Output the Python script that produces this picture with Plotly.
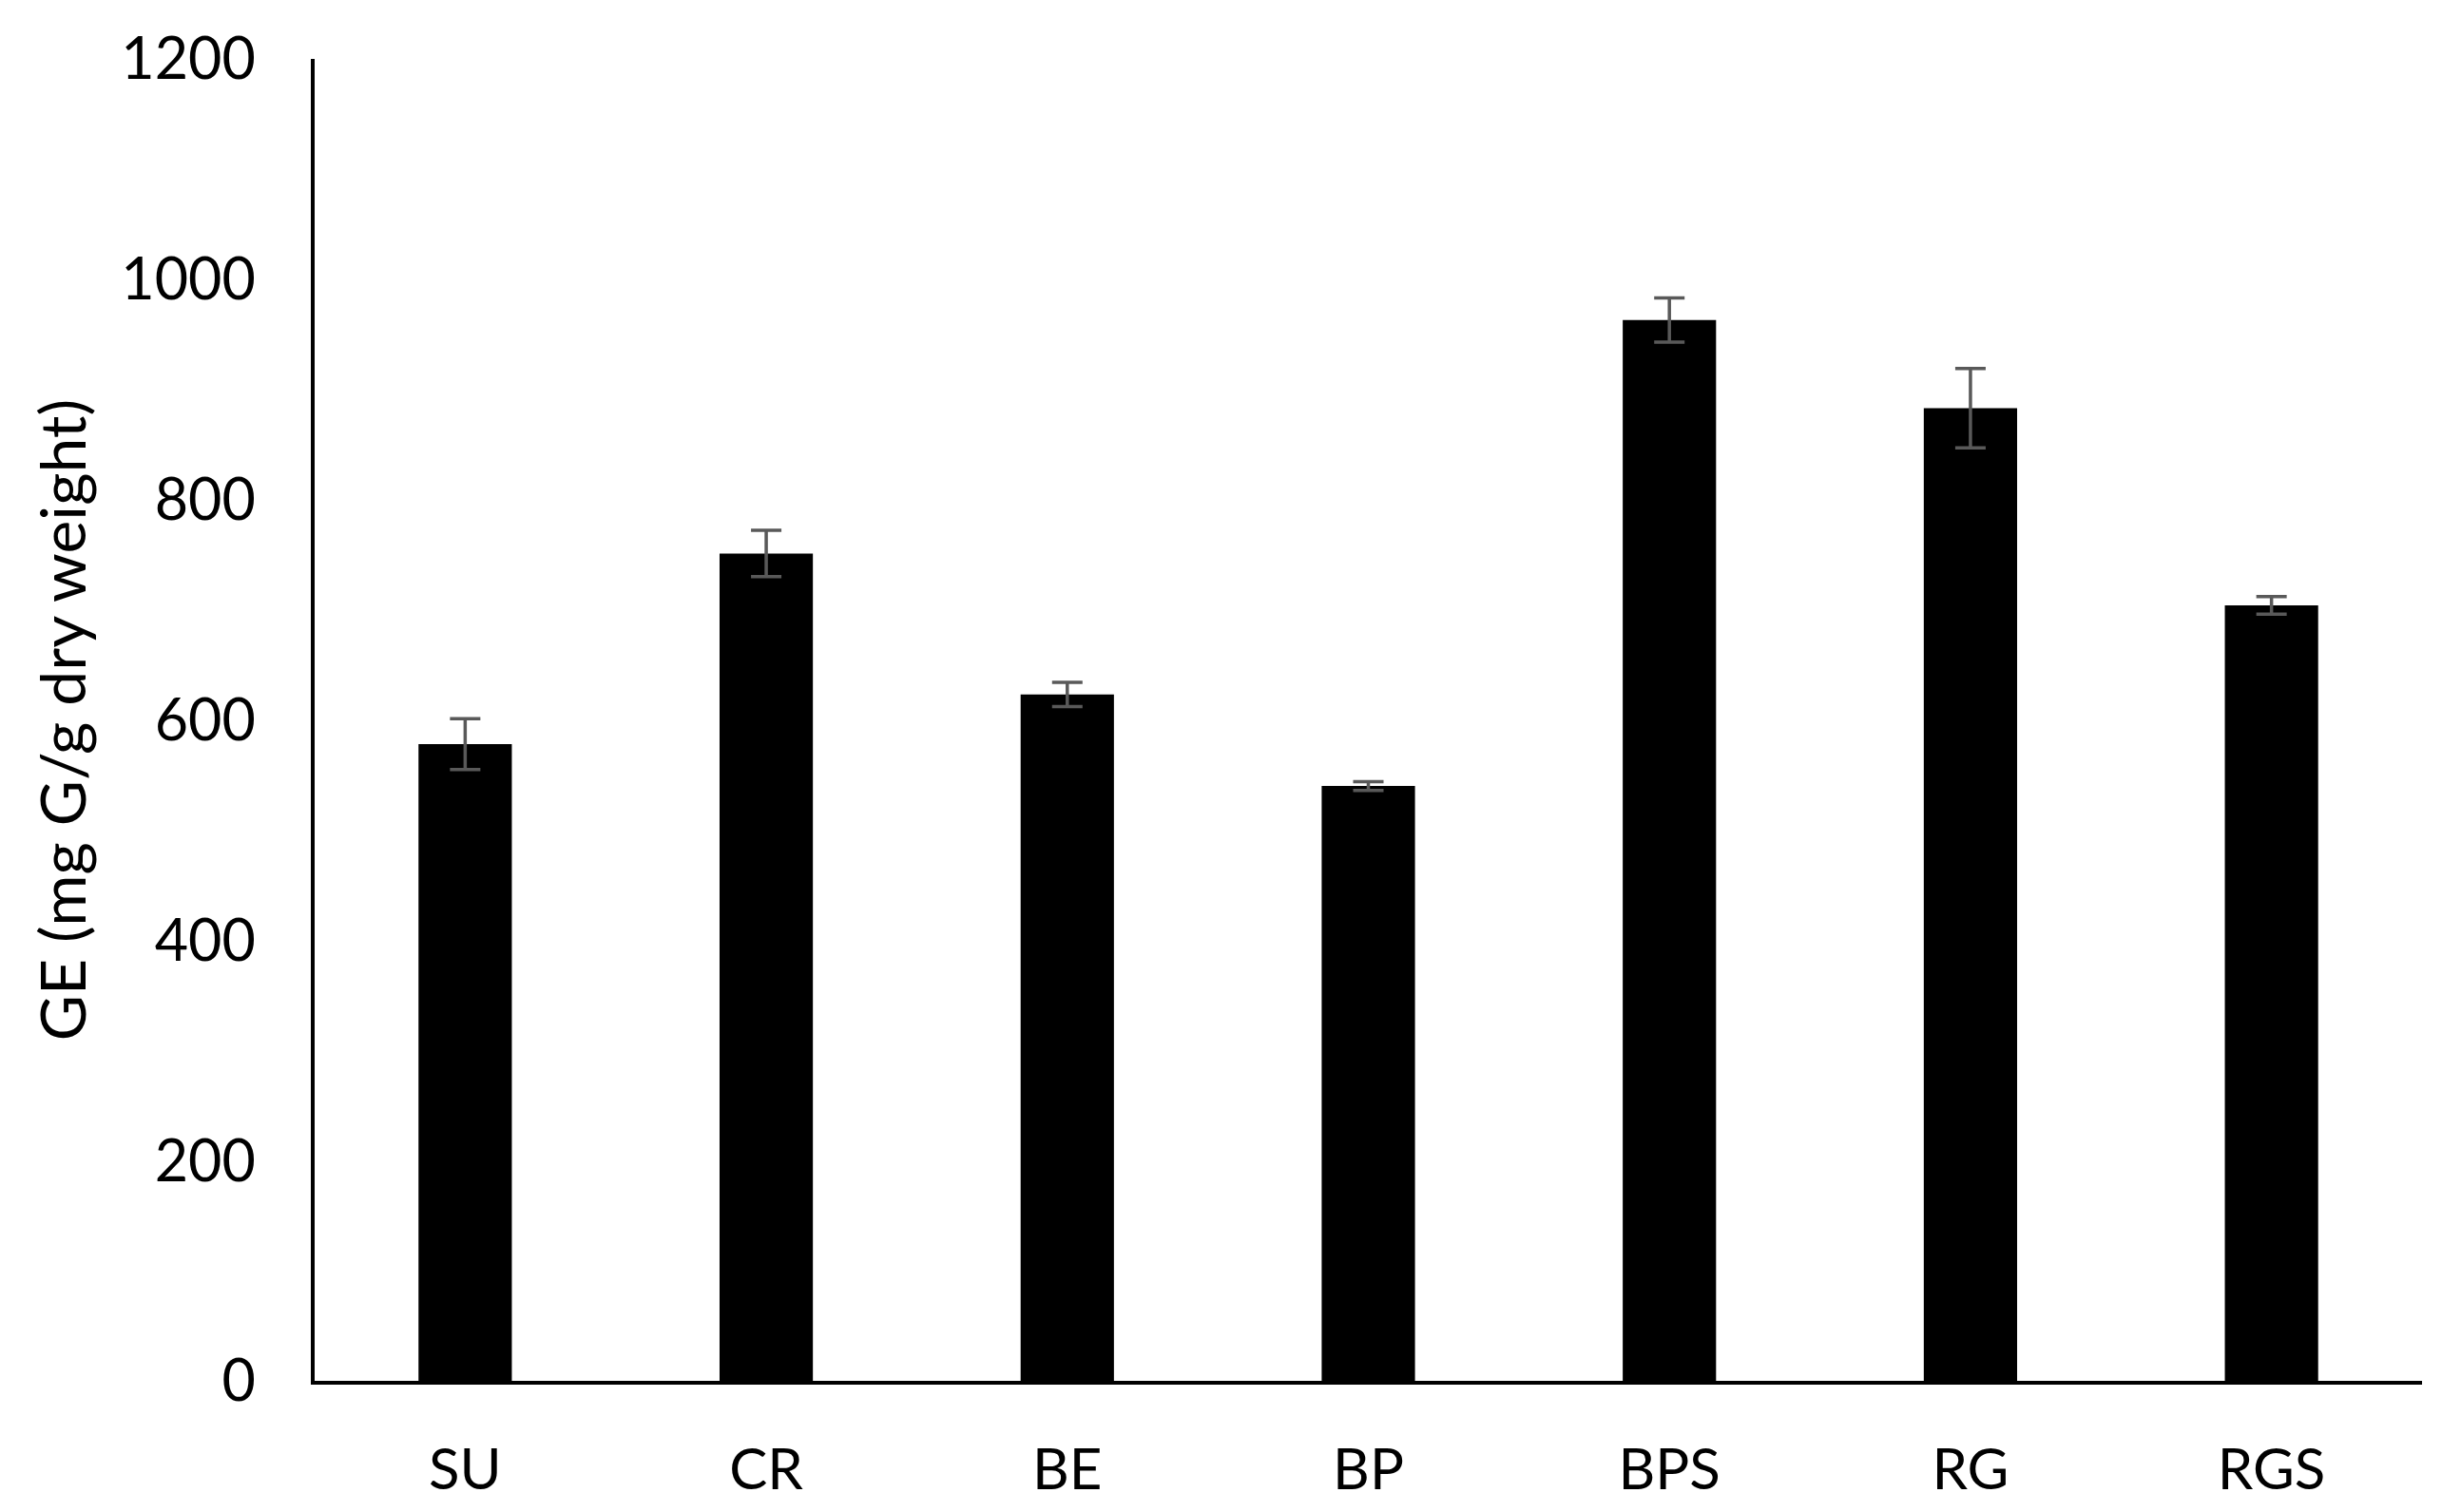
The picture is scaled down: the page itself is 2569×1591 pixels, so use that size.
import plotly.graph_objects as go

categories = ['SU', 'CR', 'BE', 'BP', 'BPS', 'RG', 'RGS']
ge_values = [578, 751, 623, 540, 963, 883, 704]
ge_errors = [23, 21, 11, 4, 20, 36, 8]

FONT = 'Lato'

fig = go.Figure(
    go.Bar(
        x=categories,
        y=ge_values,
        marker=dict(color='black', line=dict(width=0)),
        error_y=dict(
            type='data',
            array=ge_errors,
            visible=True,
            color='#595959',
            thickness=3.5,
            width=16,
        ),
    )
)

# page body adds ~8px offset, so margins are trimmed to compensate
fig.update_layout(
    width=2569,
    height=1591,
    margin=dict(l=323, r=29, t=54, b=146),
    paper_bgcolor='white',
    plot_bgcolor='white',
    bargap=0.69,
    showlegend=False,
    font=dict(family=FONT, color='black', size=60),
)

fig.update_xaxes(
    showline=True,
    linecolor='black',
    linewidth=4,
    showgrid=False,
    ticks='',
    ticklabelstandoff=38,
    tickfont=dict(size=60, family=FONT),
    range=[-0.5, 6.5],
)

fig.update_yaxes(
    range=[0, 1200],
    dtick=200,
    showline=True,
    linecolor='black',
    linewidth=4,
    showgrid=False,
    zeroline=False,
    ticks='',
    ticklabelstandoff=46,
    tickfont=dict(size=61, family=FONT),
    title=dict(text='GE (mg G/g dry weight)', font=dict(size=66, family=FONT), standoff=16),
)

fig.write_html('out.html')
